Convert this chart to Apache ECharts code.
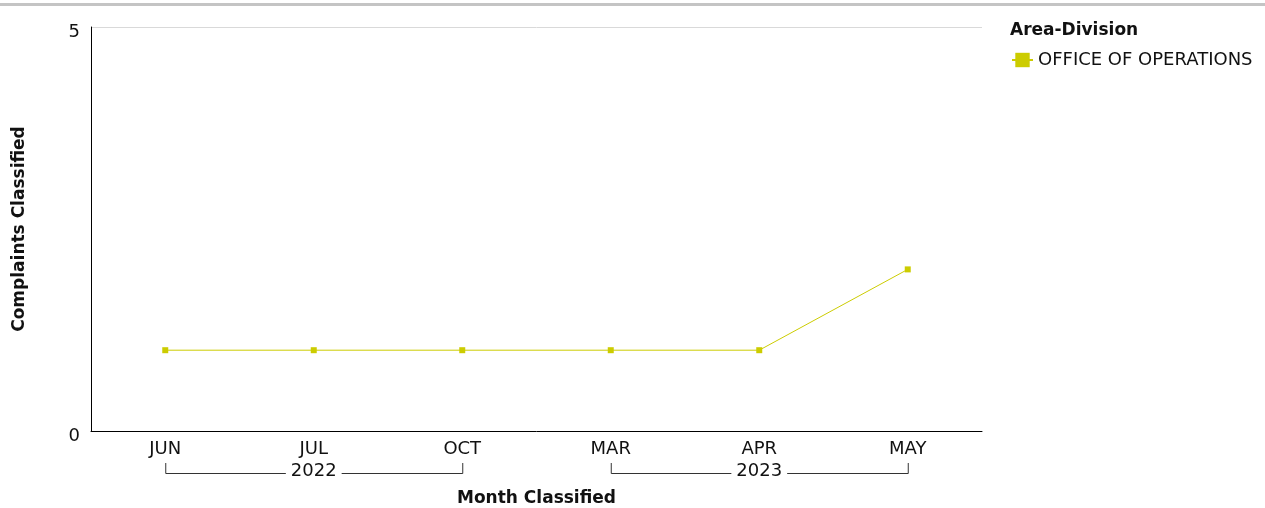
<!DOCTYPE html>
<html>
<head>
<meta charset="utf-8">
<script src="https://cdn.jsdelivr.net/npm/echarts@6/dist/echarts.min.js"></script>
<style>
html,body{margin:0;padding:0;background:#fff;}
#chart{width:1265px;height:508px;}
</style>
</head>
<body>
<div id="chart"></div>
<script>
const categories = ['JUN', 'JUL', 'OCT', 'MAR', 'APR', 'MAY'];
const years = ['2022', '2023'];
const yearSpans = [[0, 2], [3, 5]];
const seriesName = 'OFFICE OF OPERATIONS';
const values = [1, 1, 1, 1, 1, 2];
const yTicks = [0, 5];

const FONT = 'DejaVu Sans';
const chart = echarts.init(document.getElementById('chart'), null, {renderer: 'canvas'});
const color = '#cccc00';

const option = {
  animation: false,
  textStyle: {fontFamily: FONT},
  grid: {left: 91, right: 283, top: 27, bottom: 77, containLabel: false, outerBoundsMode: 'none'},
  title: {
    text: 'Area-Division', left: 1005, top: 17,
    textStyle: {fontFamily: FONT, fontSize: 17, fontWeight: 'bold', color: '#111'}
  },
  legend: {
    left: 1006, top: 46, itemWidth: 21, itemHeight: 18, itemGap: 8,
    textStyle: {fontFamily: FONT, fontSize: 18, color: '#111'},
    data: [seriesName]
  },
  xAxis: [{
    type: 'category', data: categories, boundaryGap: true,
    axisLine: {lineStyle: {color: '#000', width: 1}},
    axisTick: {show: false},
    axisLabel: {color: '#111', fontSize: 18, fontFamily: FONT, margin: 9},
    name: 'Month Classified', nameLocation: 'middle', nameGap: 59,
    nameTextStyle: {fontFamily: FONT, fontSize: 17, fontWeight: 'bold', color: '#111'}
  }, {
    type: 'category', data: years, position: 'bottom', offset: 22,
    axisLine: {show: false}, axisTick: {show: false},
    axisLabel: {color: '#111', fontSize: 18, fontFamily: FONT, margin: 9,
      backgroundColor: '#fff', padding: [0, 5]}
  }],
  yAxis: {
    type: 'value', min: yTicks[0], max: yTicks[1], interval: yTicks[1] - yTicks[0],
    axisLine: {show: true, lineStyle: {color: '#000', width: 1}},
    axisTick: {show: false},
    splitLine: {show: true, lineStyle: {color: '#d9d9d9', width: 1}},
    axisLabel: {color: '#111', fontSize: 18, fontFamily: FONT, margin: 11,
      verticalAlign: 'top', lineHeight: 18, padding: [-4, 0, 0, 0]},
    name: 'Complaints Classified', nameLocation: 'middle', nameGap: 63,
    nameTextStyle: {fontFamily: FONT, fontSize: 17, fontWeight: 'bold', color: '#111'}
  },
  series: [{
    name: seriesName, type: 'line', data: values,
    symbol: 'rect', symbolSize: 6, showSymbol: true,
    lineStyle: {color: color, width: 1},
    itemStyle: {color: color}
  }]
};
chart.setOption(option);

function drawBrackets() {
  const y0 = chart.convertToPixel({yAxisIndex: 0}, 0);
  const elements = [{
    type: 'rect', shape: {x: 0, y: 3, width: 1265, height: 3},
    style: {fill: '#c4c4c4'}, silent: true
  }];
  yearSpans.forEach(([a, b]) => {
    const xa = chart.convertToPixel({xAxisIndex: 0}, categories[a]);
    const xb = chart.convertToPixel({xAxisIndex: 0}, categories[b]);
    elements.push({
      type: 'polyline', z: -5,
      shape: {points: [[xa + 0.5, y0 + 32], [xa + 0.5, y0 + 42.5], [xb + 0.5, y0 + 42.5], [xb + 0.5, y0 + 32]]},
      style: {stroke: '#333', lineWidth: 1, fill: null}, silent: true
    });
  });
  chart.setOption({graphic: {elements: elements}});
}
drawBrackets();
</script>
</body>
</html>
